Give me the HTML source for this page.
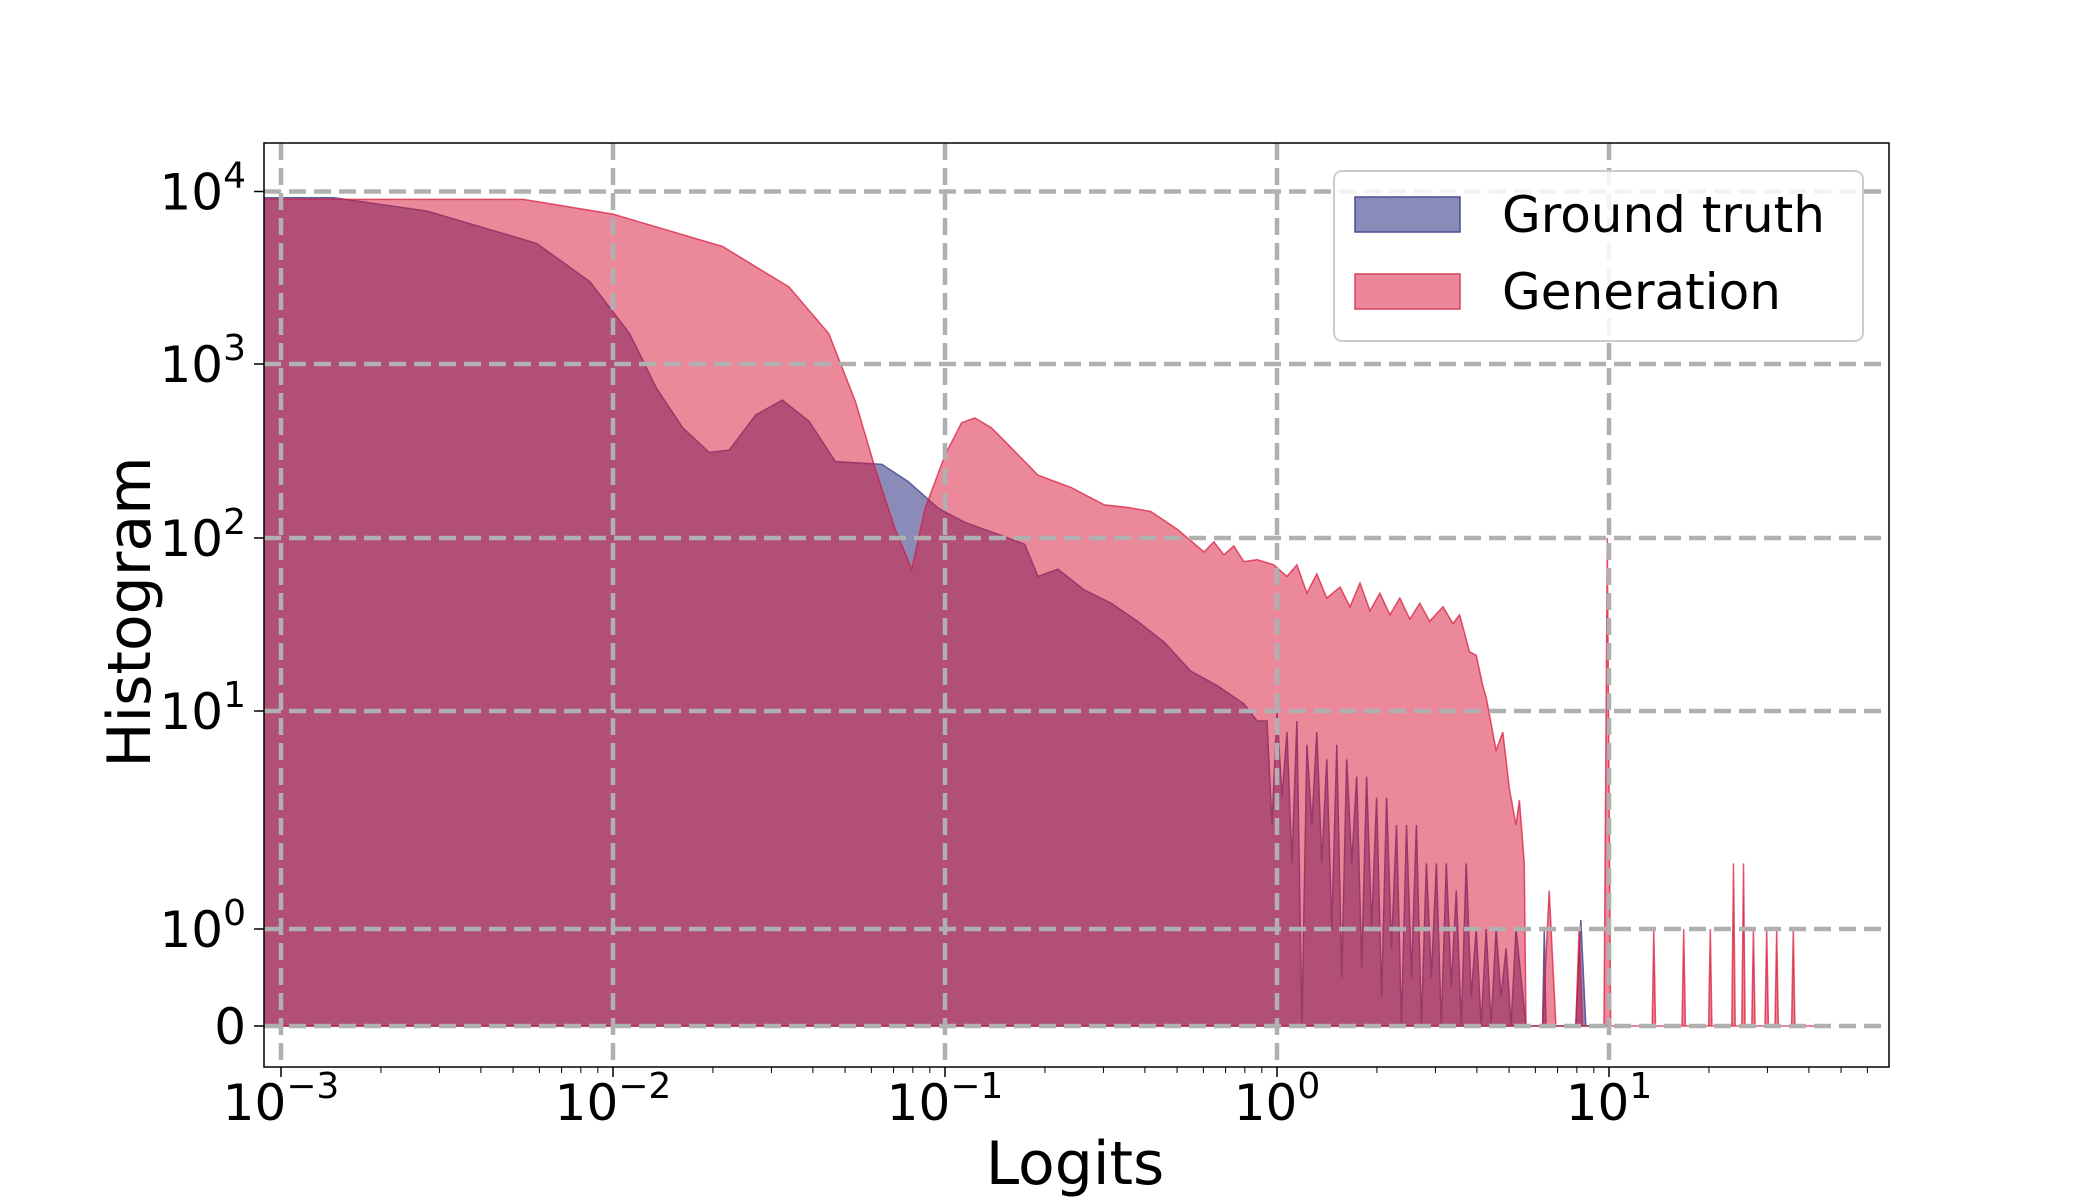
<!DOCTYPE html>
<html><head><meta charset="utf-8"><style>
html,body{margin:0;padding:0;background:#fff;}
svg{display:block;font-family:"DejaVu Sans","Liberation Sans",sans-serif;}
</style></head><body>
<svg id="chart" width="2100" height="1200" viewBox="0 0 2100 1200" xmlns="http://www.w3.org/2000/svg">
<defs><clipPath id="plotclip"><rect x="264" y="143" width="1625" height="924"/></clipPath></defs>
<g id="series" clip-path="url(#plotclip)"></g>
<g id="gridtop"></g>
<rect x="264" y="143" width="1625" height="924" fill="none" stroke="#000" stroke-width="1.5"/>
<g id="axes"></g>
<text x="1075" y="1184" font-size="60" text-anchor="middle">Logits</text>
<text transform="translate(150,612) rotate(-90)" font-size="60" text-anchor="middle">Histogram</text>
<g>
<rect x="1334" y="171" width="529" height="170" rx="8" fill="#fff" fill-opacity="0.85" stroke="#ccc" stroke-width="2"/>
<g>
<rect x="1355" y="197" width="105" height="35" fill="#8a8bb8" stroke="#4a4c94" stroke-width="1.5"/>
<text x="1502" y="232" font-size="50">Ground truth</text>
</g>
<g>
<rect x="1355" y="274" width="105" height="35" fill="#eb8799" stroke="#d8455f" stroke-width="1.5"/>
<text x="1502" y="309" font-size="50">Generation</text>
</g>
</g>
</svg>
<script>
const xTickExps = [-3, -2, -1, 0, 1];
const yTickValues = [0, 1, 10, 100, 1000, 10000];
const yTickExps = ["", "0", "1", "2", "3", "4"];
const gtLogX = [-3.06,-2.84,-2.56,-2.23,-2.07,-1.95,-1.87,-1.79,-1.71,-1.65,-1.57,-1.49,-1.41,-1.33,-1.19,-1.11,-1.02,-0.94,-0.84,-0.76,-0.72,-0.66,-0.58,-0.5,-0.42,-0.34,-0.26,-0.18,-0.1,-0.06,
-0.03,-0.015,0,0.015,0.03,0.045,0.06,0.075,0.09,0.105,0.12,0.135,0.15,0.165,0.18,0.195,0.21,0.225,0.24,0.255,0.27,0.285,0.3,0.315,0.33,0.345,0.36,0.375,0.39,0.405,0.42,0.435,0.45,0.465,0.48,0.495,0.51,0.525,0.54,0.555,0.57,0.585,0.6,0.615,0.63,0.645,0.66,0.675,0.69,0.705,0.72,0.75,0.8,0.805,0.81,0.9,0.915,0.93,1.0];
const gtCounts = [9200,9200,7700,5000,3000,1500,730,430,310,320,510,620,470,275,265,210,148,123,105,92,60,66,50,42,33,25,17,14,11,9,
9,3,10,4,8,2,9,0,7,3,8,2,6,1,7,0.5,6,2,5,0.6,5,1,4,0.3,4,0.8,3,0,3,0.5,3,0,2,0.5,2,0,2,0.4,1.5,0,2,0.3,1,0,1,0,1,0.3,0.8,0,1,0,0,1,0,0,1.1,0,0];
const genLogX = [-3.06,-2.27,-2,-1.67,-1.47,-1.35,-1.27,-1.21,-1.15,-1.1,-1.06,-1.0,-0.95,-0.91,-0.86,-0.82,-0.72,-0.62,-0.52,-0.45,-0.38,-0.3,-0.22,-0.19,-0.16,-0.13,-0.1,-0.06,-0.01,0.03,0.06,0.09,0.12,0.15,0.19,0.22,0.25,0.28,0.31,0.34,0.37,0.4,0.43,0.46,0.5,0.53,0.55,0.58,0.6,0.62,0.63,0.66,0.68,0.7,0.72,0.73,0.745,0.75,0.8,0.82,0.84,0.9,0.91,0.92,0.985,0.995,1.0,1.005,1.13,1.135,1.14,1.22,1.225,1.23,1.3,1.305,1.31,1.37,1.375,1.38,1.4,1.405,1.41,1.43,1.435,1.44,1.47,1.475,1.48,1.5,1.505,1.51,1.55,1.555,1.56,1.62];
const genCounts = [9000,9000,7400,4800,2800,1500,610,250,112,66,148,300,460,490,430,360,230,195,155,150,142,112,83,95,80,90,73,75,70,60,70,48,62,45,52,40,55,38,48,36,45,34,42,33,40,32,36,22,21,14,12,6.6,8,4.4,3,3.9,2,0,0,1.5,0,0,1,0,0,100,5,0,0,1,0,0,1,0,0,1,0,0,2,0,0,2,0,0,1,0,0,1,0,0,1,0,0,1,0,0];

const NS = "http://www.w3.org/2000/svg";
const X0 = 281, DEC = 332;
const XL = 264, XR = 1889, YT = 143, YB = 1067;
function xs(lx){ return X0 + (lx + 3) * DEC; }
const yAnchorP = [1026, 929, 711, 538, 364, 191.5];
function ys(v){
  if (v <= 1) return yAnchorP[0] + (yAnchorP[1] - yAnchorP[0]) * Math.max(v, 0);
  const l = Math.log10(v);
  const i = Math.min(Math.floor(l), 3);
  return yAnchorP[i + 1] + (yAnchorP[i + 2] - yAnchorP[i + 1]) * (l - i);
}
function mk(tag, attrs, parent){
  const e = document.createElementNS(NS, tag);
  for (const k in attrs) e.setAttribute(k, attrs[k]);
  parent.appendChild(e); return e;
}
const grid = document.getElementById('gridtop');
const axes = document.getElementById('axes');
const series = document.getElementById('series');

function area(lx, cnt, fill, stroke, name){
  let d = "M" + xs(lx[0]) + "," + ys(0);
  for (let i = 0; i < lx.length; i++) d += " L" + xs(lx[i]).toFixed(1) + "," + ys(cnt[i]).toFixed(1);
  d += " L" + xs(lx[lx.length - 1]) + "," + ys(0) + " Z";
  const p = mk('path', {d: d, fill: fill, stroke: stroke, 'stroke-width': 1.5}, series);
  
  
}
area(gtLogX, gtCounts, "#8a8bb8", "#5a5c9c", "ground-truth-area");
area(genLogX, genCounts, "rgba(216,21,56,0.51)", "rgba(216,21,56,0.7)", "generation-area");

xTickExps.forEach(e => {
  const x = xs(e);
  const g = mk('line', {x1: x, x2: x, y1: YT, y2: YB, stroke: '#b0b0b0', 'stroke-width': 4.5, 'stroke-dasharray': '17 8'}, grid);
  
  
  const t = mk('line', {x1: x, x2: x, y1: YB, y2: YB + 10, stroke: '#000', 'stroke-width': 1.5}, axes);
  
  
  const lab = mk('text', {x: x, y: 1120, 'font-size': 50, 'text-anchor': 'middle'}, axes);
  
  
  lab.innerHTML = '10<tspan dy="-22" font-size="36">' + (e < 0 ? '\u2212' + (-e) : e) + '</tspan>';
  for (let k = 2; k <= 9; k++) {
    const mx = xs(e + Math.log10(k));
    if (mx > XR) break;
    const m = mk('line', {x1: mx, x2: mx, y1: YB, y2: YB + 6, stroke: '#000', 'stroke-width': 1}, axes);
    
    
  }
});
yTickValues.forEach((v, i) => {
  const y = ys(v);
  const g = mk('line', {x1: XL, x2: XR, y1: y, y2: y, stroke: '#b0b0b0', 'stroke-width': 4.5, 'stroke-dasharray': '17 8'}, grid);
  
  
  const t = mk('line', {x1: XL - 10, x2: XL, y1: y, y2: y, stroke: '#000', 'stroke-width': 1.5}, axes);
  
  
  const lab = mk('text', {x: 246, y: y + 18, 'font-size': 50, 'text-anchor': 'end'}, axes);
  
  
  lab.innerHTML = v === 0 ? '0' : '10<tspan dy="-22" font-size="36">' + yTickExps[i] + '</tspan>';
});
</script>
</body></html>
